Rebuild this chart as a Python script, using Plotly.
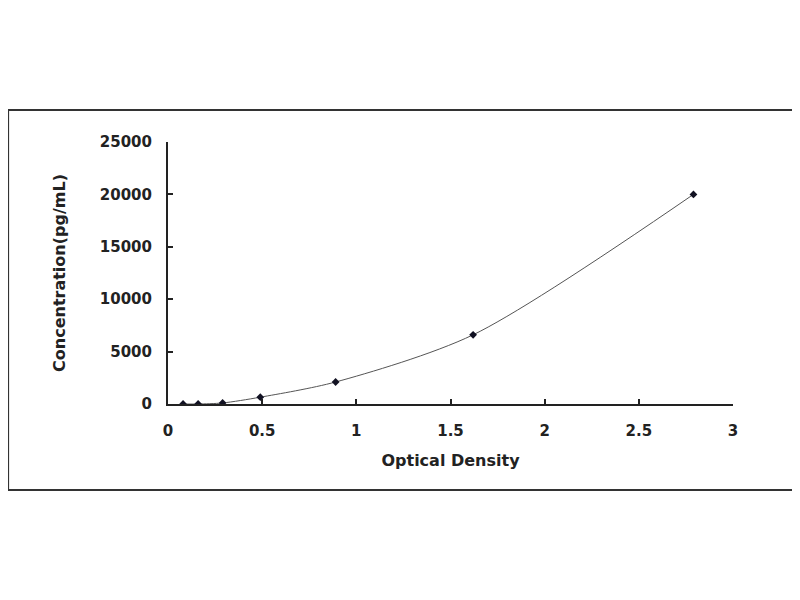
import plotly.graph_objects as go

# standard curve points
od = [0.08, 0.16, 0.29, 0.49, 0.89, 1.62, 2.79]
conc = [0, 0, 100, 650, 2100, 6600, 20000]

x_ticks = [0, 0.5, 1, 1.5, 2, 2.5, 3]
x_labels = ['0', '0.5', '1', '1.5', '2', '2.5', '3']
y_ticks = [0, 5000, 10000, 15000, 20000, 25000]
y_labels = ['0', '5000', '10000', '15000', '20000', '25000']

fig = go.Figure()
fig.add_trace(go.Scatter(x=od, y=conc, mode='lines', line=dict(color='#555555', width=1, shape='spline', smoothing=0.8),
                         hoverinfo='skip', showlegend=False))
fig.add_trace(go.Scatter(x=od, y=conc, mode='markers', marker=dict(color='#111122', size=6, symbol='diamond'),
                         showlegend=False))

axis_font = dict(family='DejaVu Sans', size=16, color='#222222')
tick_font = dict(family='DejaVu Sans', size=15, color='#222222', weight='bold')
fig.update_xaxes(range=[0, 3], tickvals=x_ticks, ticktext=x_labels, showgrid=False, zeroline=False,
                 showline=True, linecolor='#222222', linewidth=2, ticks='inside', ticklen=5, tickwidth=1.5,
                 tickcolor='#222222', tickfont=tick_font, ticklabelstandoff=12,
                 title=dict(text='<b>Optical Density</b>', font=axis_font, standoff=16))
fig.update_yaxes(range=[0, 25000], tickvals=y_ticks, ticktext=y_labels, showgrid=False, zeroline=False,
                 showline=True, linecolor='#222222', linewidth=2, ticks='inside', ticklen=5, tickwidth=1.5,
                 tickcolor='#222222', tickfont=tick_font, ticklabelstandoff=11,
                 title=dict(text='<b>Concentration(pg/mL)</b>', font=axis_font, standoff=30))

# outer frame around the whole chart
fig.add_shape(type='rect', xref='paper', yref='paper', x0=-0.283, x1=1.113, y0=-0.328, y1=1.122,
              line=dict(color='#333333', width=2), fillcolor='rgba(0,0,0,0)')

fig.update_layout(width=800, height=600, margin=dict(l=160, r=75, t=134, b=204),
                  plot_bgcolor='white', paper_bgcolor='white',
                  font=dict(family='DejaVu Sans', size=14, color='#222222'))
fig.write_html("out.html")
